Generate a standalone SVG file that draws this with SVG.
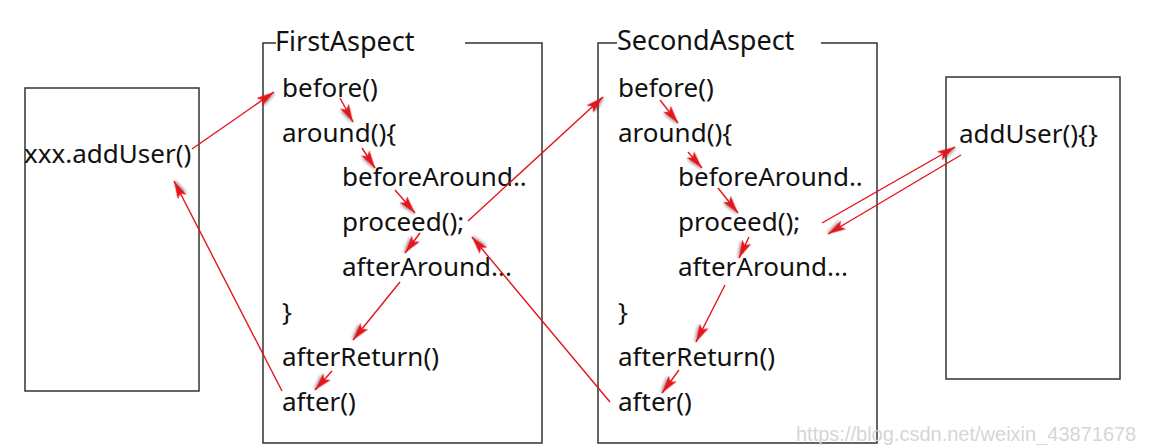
<svg xmlns="http://www.w3.org/2000/svg" width="1172" height="445" viewBox="0 0 1172 445">
<style>
.box{fill:none;stroke:#333;stroke-width:1.5}
.t{font-family:"Noto Sans","Open Sans","DejaVu Sans",sans-serif;font-size:26px;fill:#111}
.title{font-size:27px}
.a{stroke:#e3141b;stroke-width:1.4;fill:none;marker-end:url(#ah)}
.wm{font-family:"Liberation Sans",Arial,sans-serif;font-size:20px;fill:#d6d6d6}
</style>
<defs>
<filter id="sh" x="-50%" y="-50%" width="200%" height="200%">
<feDropShadow dx="1.5" dy="1.5" stdDeviation="1.2" flood-color="#000" flood-opacity="0.35"/>
</filter>
<marker id="ah" markerUnits="userSpaceOnUse" markerWidth="22" markerHeight="14" refX="18" refY="6" orient="auto">
<path d="M0,1 L18,6 L0,11 L4,6 z" fill="#e3141b" filter="url(#sh)"/>
</marker>
</defs>
<g id="caller">
<rect class="box" x="25" y="88" width="174" height="303"/>
<text class="t" x="24" y="163">xxx.addUser()</text>
</g>
<g id="first-aspect">
<path class="box" d="M276,43 H263 V443 H542 V43 H465"/>
<text class="t title" x="275" y="51">FirstAspect</text>
<text class="t" x="282" y="97">before()</text>
<text class="t" x="282" y="142">around(){</text>
<text class="t" x="342" y="186">beforeAround..</text>
<text class="t" x="342" y="231">proceed();</text>
<text class="t" x="342" y="276">afterAround...</text>
<text class="t" x="282" y="321">}</text>
<text class="t" x="282" y="366">afterReturn()</text>
<text class="t" x="282" y="411">after()</text>
</g>
<g id="second-aspect">
<path class="box" d="M617,43 H598 V443 H877 V43 H821"/>
<text class="t title" x="617" y="50">SecondAspect</text>
<text class="t" x="618" y="97">before()</text>
<text class="t" x="618" y="142">around(){</text>
<text class="t" x="678" y="186">beforeAround..</text>
<text class="t" x="678" y="231">proceed();</text>
<text class="t" x="678" y="276">afterAround...</text>
<text class="t" x="618" y="321">}</text>
<text class="t" x="618" y="366">afterReturn()</text>
<text class="t" x="618" y="411">after()</text>
</g>
<g id="target">
<rect class="box" x="946" y="77" width="174" height="302"/>
<text class="t" x="959" y="143">addUser(){}</text>
</g>
<g id="connectors">
<line class="a" x1="192" y1="149" x2="274" y2="92"/>
<line class="a" x1="282" y1="391" x2="174" y2="181"/>
<line class="a" x1="340" y1="98" x2="353" y2="122"/>
<line class="a" x1="362" y1="148" x2="375" y2="168"/>
<line class="a" x1="395" y1="190" x2="415" y2="213"/>
<line class="a" x1="420" y1="233" x2="405" y2="253"/>
<line class="a" x1="400" y1="282" x2="353" y2="340"/>
<line class="a" x1="332" y1="371" x2="315" y2="390"/>
<line class="a" x1="468" y1="221" x2="603" y2="97"/>
<line class="a" x1="610" y1="402" x2="472" y2="237"/>
<line class="a" x1="660" y1="100" x2="678" y2="123"/>
<line class="a" x1="688" y1="152" x2="702" y2="168"/>
<line class="a" x1="718" y1="188" x2="738" y2="213"/>
<line class="a" x1="749" y1="237" x2="739" y2="258"/>
<line class="a" x1="725" y1="285" x2="696" y2="342"/>
<line class="a" x1="679" y1="370" x2="662" y2="393"/>
<line class="a" x1="822" y1="223" x2="955" y2="147"/>
<line class="a" x1="961" y1="155" x2="828" y2="234"/>
</g>
<text class="wm" x="796" y="441">https://blog.csdn.net/weixin_43871678</text>
</svg>
